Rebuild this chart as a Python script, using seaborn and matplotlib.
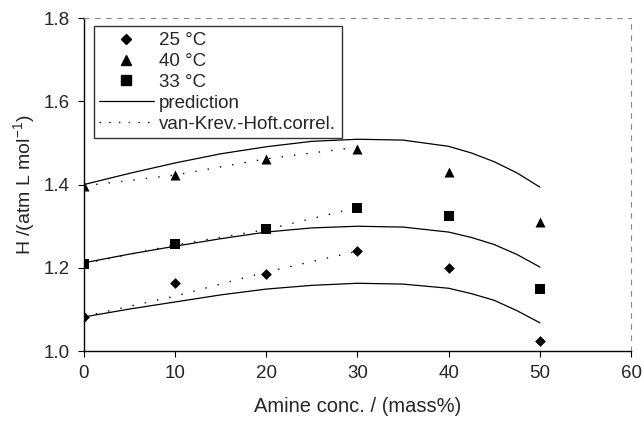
import numpy as np
import pandas as pd
import matplotlib
matplotlib.use("Agg")
import matplotlib.pyplot as plt
import seaborn as sns
from matplotlib.lines import Line2D

# measured points
conc = [0, 10, 20, 30, 40, 50]
h_25 = [1.083, 1.163, 1.185, 1.240, 1.200, 1.025]
h_40 = [1.397, 1.422, 1.462, 1.485, 1.430, 1.310]
h_33 = [1.210, 1.257, 1.293, 1.345, 1.325, 1.150]

# prediction curves
conc_pred = [0, 5, 10, 15, 20, 25, 30, 35, 40, 42.5, 45, 47.5, 50]
pred_25 = [1.082, 1.101, 1.118, 1.135, 1.149, 1.158, 1.163, 1.161, 1.151, 1.138, 1.122, 1.097, 1.068]
pred_33 = [1.212, 1.233, 1.252, 1.270, 1.286, 1.296, 1.300, 1.298, 1.286, 1.273, 1.256, 1.232, 1.202]
pred_40 = [1.400, 1.427, 1.452, 1.474, 1.491, 1.504, 1.509, 1.507, 1.492, 1.476, 1.455, 1.428, 1.394]

# van Krevelen-Hoftijzer correlation
conc_vk = [0, 10, 20, 30]
vk_25 = [1.083, 1.132, 1.190, 1.240]
vk_33 = [1.210, 1.255, 1.292, 1.345]
vk_40 = [1.397, 1.423, 1.462, 1.490]

n = len(conc_pred)
pred = pd.DataFrame({"conc": conc_pred * 3, "H": pred_25 + pred_33 + pred_40,
                     "T": ["25"] * n + ["33"] * n + ["40"] * n})
vk = pd.DataFrame({"conc": conc_vk * 3, "H": vk_25 + vk_33 + vk_40,
                   "T": ["25"] * 4 + ["33"] * 4 + ["40"] * 4})

sns.set_style("white")
plt.rcParams["font.family"] = ["Liberation Sans", "DejaVu Sans"]

fig = plt.figure(figsize=(6.44, 4.22), dpi=100)
ax = fig.add_axes([0.130, 0.168, 0.850, 0.789])

dots = (0, (1, 8))
sns.lineplot(data=pred, x="conc", y="H", units="T", estimator=None,
             color="black", lw=0.9, ax=ax, legend=False)
sns.lineplot(data=vk, x="conc", y="H", units="T", estimator=None,
             color="black", lw=1.0, ls=dots, ax=ax, legend=False)
sns.scatterplot(x=conc, y=h_25, marker="D", s=30, color="black", linewidth=0, ax=ax, zorder=3)
sns.scatterplot(x=conc, y=h_40, marker="^", s=52, color="black", linewidth=0, ax=ax, zorder=3)
sns.scatterplot(x=conc, y=h_33, marker="s", s=50, color="black", linewidth=0, ax=ax, zorder=3)

ax.set_xlim(0, 60)
ax.set_ylim(1.0, 1.8)
ax.set_xticks([0, 10, 20, 30, 40, 50, 60])
ax.set_yticks([1.0, 1.2, 1.4, 1.6, 1.8])
ax.set_yticklabels(["1.0", "1.2", "1.4", "1.6", "1.8"])
ax.tick_params(labelsize=13.5, length=4, direction="out", width=0.8, color="black",
               bottom=True, left=True)
ax.tick_params(axis="x", pad=6)
ax.tick_params(axis="y", pad=6)
ax.set_xlabel("Amine conc. / (mass%)", fontsize=14.5, labelpad=11)
ax.set_ylabel(r"H /(atm L mol$^{\mathregular{-1}}$)", fontsize=14, labelpad=4)

for side in ["left", "bottom"]:
    ax.spines[side].set_color("black")
    ax.spines[side].set_linewidth(1.0)
for side in ["top", "right"]:
    ax.spines[side].set_color("#888888")
    ax.spines[side].set_linewidth(0.8)
    ax.spines[side].set_linestyle((0, (4, 6)))

handles = [
    Line2D([], [], ls="none", marker="D", color="black", markersize=5.3),
    Line2D([], [], ls="none", marker="^", color="black", markersize=7),
    Line2D([], [], ls="none", marker="s", color="black", markersize=7),
    Line2D([], [], color="black", lw=0.9),
    Line2D([], [], color="black", lw=1.0, ls=(0, (1, 6))),
]
labels = ["25 °C", "40 °C", "33 °C", "prediction", "van-Krev.-Hoft.correl."]
leg = ax.legend(handles, labels, loc="upper left", bbox_to_anchor=(0.018, 0.975),
                fontsize=13.5, frameon=True, fancybox=False, borderpad=0.3,
                labelspacing=0.2, handlelength=2.9, handletextpad=0.3,
                borderaxespad=0)
leg.get_frame().set_edgecolor("black")
leg.get_frame().set_linewidth(1.0)

fig.savefig("out.png", dpi=100)
